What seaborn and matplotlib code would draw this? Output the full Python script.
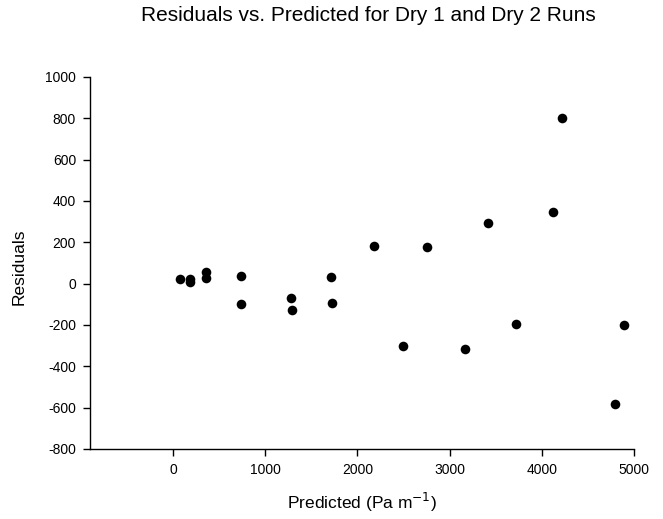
import matplotlib
matplotlib.use("Agg")
import matplotlib.pyplot as plt
import seaborn as sns
import pandas as pd

predicted = [80, 180, 180, 358, 358, 737, 741, 1276, 1287, 1710, 1720,
             2177, 2490, 2758, 3170, 3416, 3716, 4117, 4222, 4790, 4895]
residuals = [24, 22, 8, 57, 29, 35, -97, -69, -129, 32, -92,
             184, -304, 179, -315, 295, -195, 349, 802, -581, -200]

x_ticks = [0, 1000, 2000, 3000, 4000, 5000]
y_ticks = [-800, -600, -400, -200, 0, 200, 400, 600, 800, 1000]

sns.set_theme(style="ticks")
plt.rcParams['font.family'] = ['Liberation Sans', 'DejaVu Sans']
plt.rcParams['axes.unicode_minus'] = False

df = pd.DataFrame({"Predicted": predicted, "Residuals": residuals})

fig = plt.figure(figsize=(6.63, 5.19), dpi=100)
ax = fig.add_axes([90/663, 1-449/519, (634-90)/663, (449-77)/519])
sns.scatterplot(data=df, x="Predicted", y="Residuals", ax=ax, color="black",
                s=48, edgecolor="black", linewidth=0)

ax.set_xlim(-900, 5000)
ax.set_ylim(-800, 1000)
ax.set_xticks(x_ticks)
ax.set_yticks(y_ticks)
ax.tick_params(axis="both", direction="out", length=5, width=1, labelsize=10,
               colors="black", pad=5)
for s in ["top", "right"]:
    ax.spines[s].set_visible(False)
for s in ["left", "bottom"]:
    ax.spines[s].set_color("black")
    ax.spines[s].set_linewidth(1)

ax.set_xlabel("")
ax.set_ylabel("")
fig.text(362/663, 1-509/519, "Predicted (Pa m$^{-1}$)", ha="center",
         va="baseline", fontsize=12.5, color="black")
fig.text(19.5/663, 1-267/519, "Residuals", ha="center", va="center",
         rotation=90, fontsize=12.5, color="black")
fig.text(368/663, 1-21/519, "Residuals vs. Predicted for Dry 1 and Dry 2 Runs",
         ha="center", va="baseline", fontsize=15, color="black")

fig.savefig("out.png", dpi=100)
